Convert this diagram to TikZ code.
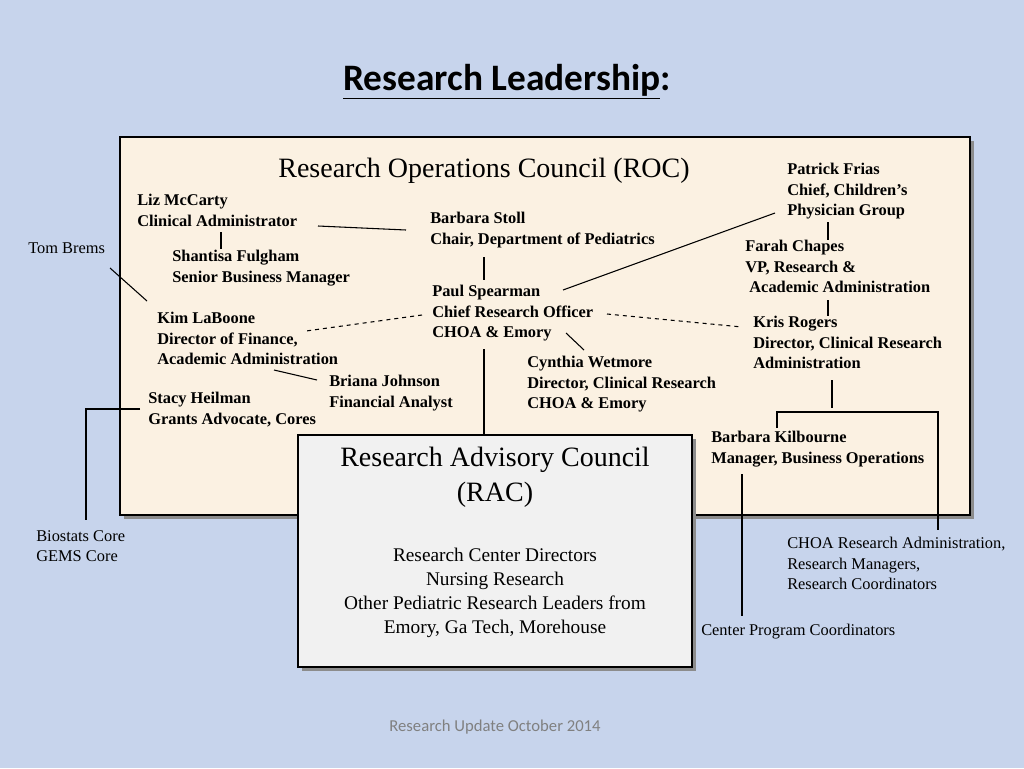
\documentclass[tikz,border=0pt]{standalone}
\usepackage{fontspec}
\setmainfont{Liberation Serif}
\newfontfamily\carlito{Carlito}
\definecolor{slidebg}{RGB}{199,212,236}
\definecolor{roccream}{RGB}{251,241,226}
\definecolor{racgray}{RGB}{241,241,241}
\definecolor{shadowgray}{RGB}{140,140,140}
\tikzset{
  person/.style={anchor=north west, align=left, inner sep=0pt, font=\fontsize{12.3}{15.3}\selectfont\bfseries},
  plain/.style={anchor=north west, align=left, inner sep=0pt, font=\fontsize{12.3}{15.3}\selectfont},
  link/.style={line width=0.8pt},
  dashlink/.style={line width=0.8pt, dashed}
}
\begin{document}
\begin{tikzpicture}[x=0.75pt,y=-0.75pt]
  % background
  \fill[slidebg] (0,0) rectangle (1024,768);
  \node[font=\carlito\fontsize{28}{32}\selectfont\bfseries] (title) at (507,82) {\underline{Research Leadership}:};

  % ROC box
  \fill[shadowgray] (124,141) rectangle (974,519);
  \draw[fill=roccream, line width=0.8pt] (120,137) rectangle (970,515);
  \node[font=\fontsize{21}{26}\selectfont] (roc) at (484,171) {Research Operations Council (ROC)};

  % people
  \node[person] (frias) at (787,163) {Patrick Frias\\Chief, Children’s\\Physician Group};
  \node[person] (mccarty) at (137,194) {Liz McCarty\\Clinical Administrator};
  \node[person] (stoll) at (430,212) {Barbara Stoll\\Chair, Department of Pediatrics};
  \node[plain] (brems) at (28,242) {Tom Brems};
  \node[person] (fulgham) at (172,250) {Shantisa Fulgham\\Senior Business Manager};
  \node[person] (chapes) at (745,240) {Farah Chapes\\VP, Research \&\\\ Academic Administration};
  \node[person] (spearman) at (432,285) {Paul Spearman\\Chief Research Officer\\CHOA \& Emory};
  \node[person] (laboone) at (157,312) {Kim LaBoone\\Director of Finance,\\Academic Administration};
  \node[person] (rogers) at (753,316) {Kris Rogers\\Director, Clinical Research\\Administration};
  \node[person] (wetmore) at (527,356) {Cynthia Wetmore\\Director, Clinical Research\\CHOA \& Emory};
  \node[person] (johnson) at (329,375) {Briana Johnson\\Financial Analyst};
  \node[person] (heilman) at (148,392) {Stacy Heilman\\Grants Advocate, Cores};
  \node[person] (kilbourne) at (711,431) {Barbara Kilbourne\\Manager, Business Operations};

  % outside ROC
  \node[plain] (biostats) at (36,530) {Biostats Core\\GEMS Core};
  \node[plain] (choa) at (787,537) {CHOA Research Administration,\\Research Managers,\\Research Coordinators};
  \node[plain] (centers) at (701,624) {Center Program Coordinators};

  % connectors
  \draw[link] (318,226) -- (406,230);
  \draw[link] (221,232) -- (221,249);
  \draw[link] (110,268) -- (147,301);
  \draw[link] (484,257) -- (484,280);
  \draw[link] (775,213) -- (563,290);
  \draw[link] (828,222) -- (828,240);
  \draw[link] (828,300) -- (828,316);
  \draw[dashlink] (422,315) -- (306,331);
  \draw[dashlink] (607,314) -- (742,327);
  \draw[link] (566,333) -- (584,350);
  \draw[link] (274,370) -- (317,380);
  \draw[link] (484,349) -- (484,435);
  \draw[link] (140,409) -- (86,409) -- (86,520);
  \draw[link] (832,380) -- (832,408);
  \draw[link] (777,428) -- (777,412) -- (938,412) -- (938,530);
  \draw[link] (742,474) -- (742,616);

  % RAC box
  \fill[shadowgray] (302,439) rectangle (696,671);
  \draw[fill=racgray, line width=0.8pt] (298,435) rectangle (692,667);
  \node[align=center, font=\fontsize{21}{26}\selectfont] (rac) at (495,477) {Research Advisory Council\\(RAC)};
  \node[align=center, font=\fontsize{14.5}{18}\selectfont] (racmembers) at (495,593) {Research Center Directors\\Nursing Research\\Other Pediatric Research Leaders from\\Emory, Ga Tech, Morehouse};

  \node[font=\carlito\fontsize{12.5}{14}\selectfont, text=gray] (footer) at (495,727) {Research Update October 2014};
\end{tikzpicture}
\end{document}
